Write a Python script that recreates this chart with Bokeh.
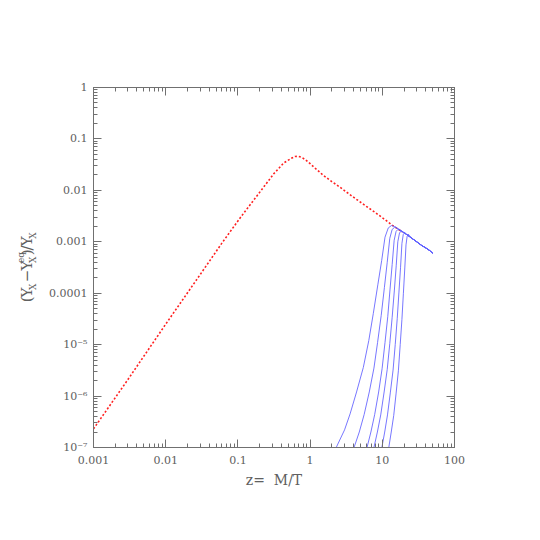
import math
from bokeh.plotting import figure
from bokeh.models import LogAxis, FixedTicker, CustomJSTickFormatter, Label
from bokeh.layouts import row
from bokeh.embed import file_html
from bokeh.resources import INLINE

# ---- data ----
red_z = [0.001, 0.003, 0.01, 0.03, 0.06, 0.109, 0.186, 0.314, 0.431, 0.55, 0.62, 0.68,
         0.76, 0.87, 1.0, 1.25, 1.53, 2.0, 2.6, 3.5, 4.66, 6.0, 8.0, 10.5, 13.4, 19.0]
red_y = [2.3e-7, 2.1e-6, 2.5e-5, 2.3e-4, 9.4e-4, 3.0e-3, 8.0e-3, 2.1e-2, 3.4e-2, 4.2e-2, 4.55e-2, 4.6e-2,
         4.4e-2, 3.9e-2, 3.3e-2, 2.5e-2, 1.95e-2, 1.48e-2, 1.15e-2, 8.4e-3, 6.3e-3, 4.9e-3, 3.7e-3, 2.8e-3, 2.15e-3, 1.55e-3]

blue1_z = [2.30, 3.0, 3.58, 4.4, 5.46, 6.5, 7.5, 8.7, 9.8, 10.9, 12.1, 13.4]
blue1_y = [1e-7, 2.2e-7, 4.5e-7, 1.2e-6, 3.6e-6, 1.2e-5, 4.0e-5, 1.5e-4, 4.3e-4, 1.23e-3, 1.86e-3, 2.07e-3]
blue2_z = [4.06, 4.8, 5.61, 6.6, 7.66, 8.6, 9.66, 10.7, 11.7, 12.7, 13.7, 14.8]
blue2_y = [1e-7, 2.0e-7, 4.4e-7, 1.2e-6, 3.5e-6, 1.1e-5, 3.7e-5, 1.3e-4, 4.0e-4, 1.17e-3, 1.74e-3, 1.91e-3]
blue3_z = [6.14, 6.95, 7.85, 8.9, 9.93, 10.9, 11.9, 12.8, 13.7, 14.6, 15.5, 16.4]
blue3_y = [1e-7, 2.0e-7, 4.4e-7, 1.2e-6, 3.4e-6, 1.1e-5, 3.5e-5, 1.2e-4, 3.6e-4, 1.07e-3, 1.58e-3, 1.74e-3]
blue4_z = [7.66, 8.55, 9.51, 10.6, 11.7, 12.7, 13.7, 14.7, 15.6, 16.4, 17.3, 18.2]
blue4_y = [1e-7, 2.0e-7, 4.3e-7, 1.2e-6, 3.3e-6, 1.05e-5, 3.4e-5, 1.15e-4, 3.5e-4, 1.0e-3, 1.48e-3, 1.62e-3]
blue5_z = [9.86, 10.8, 11.8, 12.9, 14.1, 15.1, 16.1, 17.0, 17.9, 18.7, 19.5, 20.4]
blue5_y = [1e-7, 2.0e-7, 4.3e-7, 1.15e-6, 3.2e-6, 1.0e-5, 3.2e-5, 1.05e-4, 3.2e-4, 9.3e-4, 1.38e-3, 1.51e-3]
blue6_z = [12.3, 13.3, 14.4, 15.5, 16.7, 17.7, 18.7, 19.6, 20.5, 21.3, 22.1, 22.9]
blue6_y = [1e-7, 2.0e-7, 4.2e-7, 1.1e-6, 3.1e-6, 1.0e-5, 3.1e-5, 1.0e-4, 3.1e-4, 8.7e-4, 1.29e-3, 1.41e-3]
# common decline shared by all blue curves after their maxima
tail_z = [15.0, 17.5, 20.0, 25.0, 30.0, 35.0, 40.0, 45.0, 50.0]
tail_y = [1.95e-3, 1.7e-3, 1.5e-3, 1.2e-3, 1.0e-3, 8.5e-4, 7.6e-4, 6.8e-4, 6.0e-4]

x_major = [0.001, 0.01, 0.1, 1, 10, 100]
x_tick_labels = ["0.001", "0.01", "0.1", "1", "10", "100"]
y_major = [1e-7, 1e-6, 1e-5, 1e-4, 1e-3, 1e-2, 1e-1, 1]
y_tick_labels = ["10\u207b\u2077", "10\u207b\u2076", "10\u207b\u2075", "0.0001", "0.001", "0.01", "0.1", "1"]

x_label = "z=\u00a0\u00a0M/T"
# y label pieces: (text, role) ; role = main / sub / sup
y_label_pieces = [("(", "main"), ("Y", "main"), ("X", "sub"), ("\u2212", "main"),
                  ("Y", "main"), ("X", "sub"), ("eq", "sup"), (")", "main"),
                  ("/", "main"), ("Y", "main"), ("X", "sub")]

# ---- styling ----
TXT = "#606060"
AX = "#707070"
FONT = "DejaVu Serif"
H = 528
SIDE_W = 46

def minors(lo_exp, hi_exp):
    out = []
    for e in range(lo_exp, hi_exp):
        for k in range(2, 10):
            out.append(k * 10.0 ** e)
    return out

fmt_code = """
let best = -1, bd = 1e9;
for (let i = 0; i < vals.length; i++) {
  const d = Math.abs(Math.log10(vals[i]) - Math.log10(tick));
  if (d < bd) { bd = d; best = i; }
}
return (best >= 0 && bd < 1e-3) ? labels[best] : "";
"""

p = figure(width=528 - SIDE_W, height=H, x_axis_type="log", y_axis_type="log",
           x_range=(1e-3, 100), y_range=(1e-7, 1),
           output_backend="svg", toolbar_location=None,
           min_border_left=92 - SIDE_W, min_border_right=74, min_border_top=87, min_border_bottom=81)
p.xgrid.visible = False
p.ygrid.visible = False
p.outline_line_color = AX
p.background_fill_color = "white"
p.border_fill_color = "white"

def style_axis(ax, ticker, labels=None, vals=None):
    ax.ticker = ticker
    if labels is not None:
        ax.formatter = CustomJSTickFormatter(args=dict(vals=vals, labels=labels), code=fmt_code)
    else:
        ax.formatter = CustomJSTickFormatter(code="return '';")
    ax.axis_line_color = AX
    ax.major_tick_line_color = AX
    ax.minor_tick_line_color = AX
    ax.major_tick_in = 8
    ax.major_tick_out = 0
    ax.minor_tick_in = 4
    ax.minor_tick_out = 0
    ax.major_label_text_font = FONT
    ax.major_label_text_font_size = "11px"
    ax.major_label_text_color = TXT

xa = p.xaxis[0]
style_axis(xa, FixedTicker(ticks=x_major, minor_ticks=minors(-3, 2)), x_tick_labels, x_major)
xa.major_label_standoff = 8
xa.axis_label = x_label
xa.axis_label_text_font = FONT
xa.axis_label_text_font_size = "14px"
xa.axis_label_text_font_style = "normal"
xa.axis_label_text_color = TXT
xa.axis_label_standoff = 5

ya = p.yaxis[0]
style_axis(ya, FixedTicker(ticks=y_major, minor_ticks=minors(-7, 0)), y_tick_labels, y_major)
ya.major_label_standoff = 6

top = LogAxis()
style_axis(top, FixedTicker(ticks=x_major, minor_ticks=minors(-3, 2)))
top.major_label_text_font_size = "0px"
p.add_layout(top, "above")
right = LogAxis()
style_axis(right, FixedTicker(ticks=y_major, minor_ticks=minors(-7, 0)))
right.major_label_text_font_size = "0px"
p.add_layout(right, "right")

# ---- curves ----
p.line(red_z, red_y, line_color="#ff2020", line_width=1.6, line_dash="2 2")

blues = [(blue1_z, blue1_y), (blue2_z, blue2_y), (blue3_z, blue3_y),
         (blue4_z, blue4_y), (blue5_z, blue5_y), (blue6_z, blue6_y)]
for bz, by in blues:
    zz = list(bz) + [z for z in tail_z if z > bz[-1]]
    yy = list(by) + [y for z, y in zip(tail_z, tail_y) if z > bz[-1]]
    p.line(zz, yy, line_color="#5f5fff", line_width=1, line_alpha=0.85)

# ---- side panel holding the rotated y-axis label (pixel coordinates) ----
side = figure(width=SIDE_W, height=H, x_range=(0, SIDE_W), y_range=(0, H),
              x_axis_type=None, y_axis_type=None, output_backend="svg",
              toolbar_location=None, min_border=0)
side.outline_line_color = None
side.xgrid.visible = False
side.ygrid.visible = False
side.border_fill_color = "white"

# baseline offsets (px from left) and font sizes for each role
role_x = {"main": 26, "sub": 32, "sup": 20}
role_fs = {"main": 15, "sub": 9, "sup": 9}
# advance along the label (px) after each piece
advance = [7, 11, 11.5, 17, 11, 0, 11.5, 7, 6, 11, 7]
pos = 213.0
for (txt, role), adv in zip(y_label_pieces, advance):
    side.add_layout(Label(x=role_x[role], y=pos, text=txt,
                          angle=math.pi / 2, text_align="left", text_baseline="alphabetic",
                          text_font=FONT, text_font_size=f"{role_fs[role]}px", text_color=TXT))
    pos += adv

layout = row(side, p, spacing=0)
open("out.html", "w").write(file_html(layout, INLINE))
